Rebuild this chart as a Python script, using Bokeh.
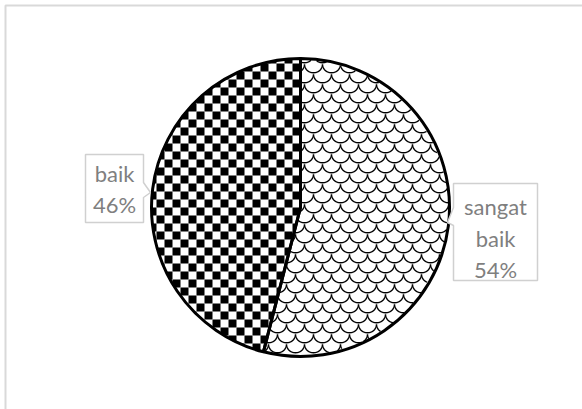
import numpy as np
from bokeh.plotting import figure
from bokeh.models import Range1d
from bokeh.core.properties import value
from bokeh.embed import file_html
from bokeh.resources import INLINE

categories = ["sangat baik", "baik"]
label_lines = [["sangat", "baik", "54%"], ["baik", "46%"]]
values = [54, 46]

W, H = 582, 409

p = figure(width=W, height=H, output_backend="svg", toolbar_location=None,
           x_range=Range1d(0, W), y_range=Range1d(0, H), min_border=0)
p.axis.visible = False
p.grid.visible = False
p.outline_line_color = None
p.background_fill_color = "white"

# outer chart border (top and left visible)
p.line([5, 5, W + 5], [-5, H - 5, H - 5], line_color="#d9d9d9", line_width=2)

cx, cy, r = 300, H - 207, 149
total = sum(values)
fr = np.array(values) / total
ends = np.pi / 2 - np.cumsum(fr) * 2 * np.pi
starts = np.concatenate([[np.pi / 2], ends[:-1]])

# white base wedges
p.wedge(x=cx, y=cy, radius=r, start_angle=starts, end_angle=ends, direction="clock",
        fill_color="white", line_color=None)

# --- texture 1: shingle-like scale lines clipped to the circle ---
P = 18.0
RS = 10.0
segs_x, segs_y = [], []
t = np.linspace(0, 1, 28)
row = 0
yy = cy - r - P
while yy < cy + r + 2 * P:
    off = (P / 2) if row % 2 else 0.0
    xx = cx - r - 2 * P + off
    while xx < cx + r + P:
        # cubic S-ish scale from (xx, yy) to (xx+P, yy)
        x0, y0 = xx, yy
        x1, y1 = xx + P * 0.05, yy - RS * 1.1
        x2, y2 = xx + P * 0.95, yy - RS * 1.1
        x3, y3 = xx + P, yy
        bx = (1 - t) ** 3 * x0 + 3 * (1 - t) ** 2 * t * x1 + 3 * (1 - t) * t ** 2 * x2 + t ** 3 * x3
        by = (1 - t) ** 3 * y0 + 3 * (1 - t) ** 2 * t * y1 + 3 * (1 - t) * t ** 2 * y2 + t ** 3 * y3
        inside = (bx - cx) ** 2 + (by - cy) ** 2 < (r - 1) ** 2
        cur_x, cur_y = [], []
        for a, b, ins in zip(bx, by, inside):
            if ins:
                cur_x.append(a); cur_y.append(b)
            elif cur_x:
                if len(cur_x) > 1:
                    segs_x.append(cur_x); segs_y.append(cur_y)
                cur_x, cur_y = [], []
        if len(cur_x) > 1:
            segs_x.append(cur_x); segs_y.append(cur_y)
        xx += P
    yy += RS
    row += 1
p.multi_line(segs_x, segs_y, line_color="black", line_width=1.4)

# --- texture 2: checkerboard clipped to the (convex) "baik" wedge ---
a = np.linspace(starts[1], ends[1], 120)
wx = np.concatenate([[cx], cx + r * np.cos(a)])
wy = np.concatenate([[cy], cy + r * np.sin(a)])
clip = list(zip(wx, wy))
area = sum(clip[i][0] * clip[(i + 1) % len(clip)][1] - clip[(i + 1) % len(clip)][0] * clip[i][1]
           for i in range(len(clip)))
sgn = 1 if area > 0 else -1

def clip_poly(poly, clipper):
    out = poly
    n = len(clipper)
    for i in range(n):
        A, B = clipper[i], clipper[(i + 1) % n]
        def inside(Pt):
            return sgn * ((B[0] - A[0]) * (Pt[1] - A[1]) - (B[1] - A[1]) * (Pt[0] - A[0])) >= 0
        def inter(Pp, Q):
            x1, y1 = Pp; x2, y2 = Q; x3, y3 = A; x4, y4 = B
            den = (x1 - x2) * (y3 - y4) - (y1 - y2) * (x3 - x4)
            if den == 0:
                return Q
            tt = ((x1 - x3) * (y3 - y4) - (y1 - y3) * (x3 - x4)) / den
            return (x1 + tt * (x2 - x1), y1 + tt * (y2 - y1))
        inp = out
        out = []
        if not inp:
            break
        Sp = inp[-1]
        for E in inp:
            if inside(E):
                if not inside(Sp):
                    out.append(inter(Sp, E))
                out.append(E)
            elif inside(Sp):
                out.append(inter(Sp, E))
            Sp = E
    return out

# white base of baik wedge hides scale lines there
p.patch(wx, wy, fill_color="white", line_color=None)

S = 8.0
xs_c, ys_c = [], []
x_min, x_max, y_min, y_max = wx.min(), wx.max(), wy.min(), wy.max()
i0 = int(np.floor((x_min - cx) / S)) - 1
i1 = int(np.ceil((x_max - cx) / S)) + 1
j0 = int(np.floor((y_min - cy) / S)) - 1
j1 = int(np.ceil((y_max - cy) / S)) + 1
for i in range(i0, i1):
    for j in range(j0, j1):
        if (i + j) % 2:
            continue
        sx, sy = cx + i * S, cy + j * S
        sq = [(sx, sy), (sx + S, sy), (sx + S, sy + S), (sx, sy + S)]
        cp = clip_poly(sq, clip)
        if len(cp) >= 3:
            xs_c.append([q[0] for q in cp]); ys_c.append([q[1] for q in cp])
p.patches(xs_c, ys_c, fill_color="black", line_color=None)

# wedge outlines
p.wedge(x=cx, y=cy, radius=r, start_angle=starts, end_angle=ends, direction="clock",
        fill_color=None, line_color="black", line_width=3)

# label boxes with callout pointers
box_color = "#d0d0d0"
rx = [453, 537, 537, 453, 453, 447, 453, 453]
ry = [183, 183, 280, 280, 225, 222, 207, 183]
p.patch(rx, [H - y for y in ry], fill_color="white", line_color=box_color, line_width=1.5)
lx = [85, 143, 143, 150, 143, 143, 85, 85]
ly = [154, 154, 182, 192, 197, 222, 222, 154]
p.patch(lx, [H - y for y in ly], fill_color="white", line_color=box_color, line_width=1.5)

font = value("Lato")
rlines = label_lines[0]
p.text(x=[495] * len(rlines), y=[H - y for y in [206, 238, 269]], text=rlines,
       text_font=font, text_font_size="22px", text_color="#7f7f7f",
       text_align="center", text_baseline="middle")
llines = label_lines[1]
p.text(x=[114] * len(llines), y=[H - y for y in [173, 204]], text=llines,
       text_font=font, text_font_size="22px", text_color="#7f7f7f",
       text_align="center", text_baseline="middle")

open("out.html", "w").write(file_html(p, INLINE))
